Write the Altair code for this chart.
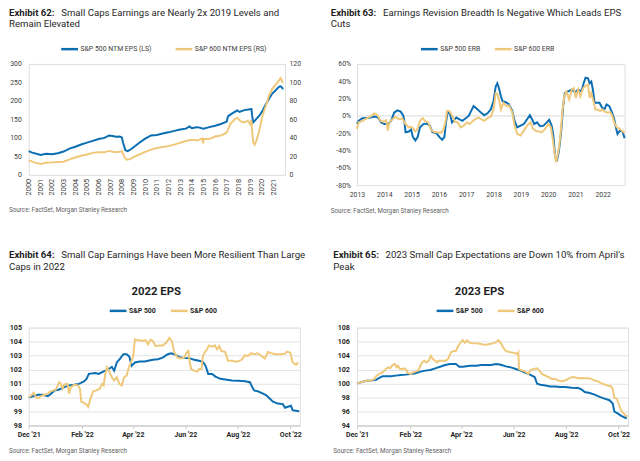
import altair as alt
import pandas as pd

FONT = "Roboto"
BLUE = "#0b6eb3"
GOLD = "#efc87a"
INK = "#1f1f1f"
AX_TXT = "#404040"
SRC_TXT = "#5f5f5f"
GRID = "#e4e4e4"

# ---------------- texts ----------------
ex_labels = ["Exhibit 62:", "Exhibit 63:", "Exhibit 64:", "Exhibit 65:"]
ex_line1 = [
    "Small Caps Earnings are Nearly 2x 2019 Levels and",
    "Earnings Revision Breadth Is Negative Which Leads EPS",
    "Small Cap Earnings Have been More Resilient Than Large",
    "2023 Small Cap Expectations are Down 10% from April's",
]
ex_line2 = ["Remain Elevated", "Cuts", "Caps in 2022", "Peak"]
source_text = "Source: FactSet, Morgan Stanley Research"
headings = ["2022 EPS", "2023 EPS"]

# ---------------- Exhibit 62 ----------------
p1_series = ["S&P 500 NTM EPS (LS)", "S&P 600 NTM EPS (RS)"]
p1_years_500 = [2000.0, 2000.3, 2000.9, 2001.0, 2001.5, 2002.0, 2002.5, 2003.0, 2003.5, 2004.0,
                2004.5, 2005.0, 2005.5, 2006.0, 2006.5, 2006.9, 2007.2, 2007.5, 2007.8, 2008.0,
                2008.1, 2008.3, 2008.5, 2008.8, 2009.0, 2009.5, 2010.0, 2010.5, 2011.0, 2011.5,
                2012.0, 2012.5, 2013.0, 2013.5, 2013.8, 2014.0, 2014.3, 2014.5, 2015.0, 2015.5,
                2016.0, 2016.5, 2017.0, 2017.1, 2017.5, 2017.9, 2018.1, 2018.5, 2019.0, 2019.12,
                2019.18, 2019.27, 2019.45, 2019.79, 2020.07, 2020.35, 2020.63, 2020.91, 2021.2,
                2021.48, 2021.62, 2021.75, 2021.82]
p1_eps_500 = [64, 60, 55, 54, 57, 56, 58.5, 63, 71, 76,
              82, 87, 92, 97, 100, 106.5, 105, 103, 104, 101,
              87, 66.5, 64, 70, 74.5, 87, 98, 106.5, 108, 112,
              115, 119, 122.5, 125, 131, 126, 128, 129, 125, 129,
              133, 137.5, 144, 158, 167, 174, 170, 175, 177.5, 178,
              160, 142, 148, 160, 173, 191, 206, 220, 229,
              238, 239.6, 236, 231]
p1_years_600 = [2000.0, 2000.5, 2001.0, 2001.5, 2002.0, 2002.5, 2003.0, 2003.5, 2004.0, 2004.5,
                2005.0, 2005.5, 2006.0, 2006.5, 2006.9, 2007.3, 2007.7, 2008.0, 2008.2, 2008.4,
                2008.7, 2009.0, 2009.5, 2010.0, 2010.5, 2011.0, 2011.5, 2012.0, 2012.5, 2013.0,
                2013.5, 2014.0, 2014.5, 2014.9, 2014.97, 2015.03, 2015.5, 2016.0, 2016.5, 2017.0,
                2017.3, 2017.7, 2017.9, 2018.2, 2018.5, 2018.8, 2019.0, 2019.11, 2019.19, 2019.28,
                2019.39, 2019.56, 2019.79, 2020.07, 2020.35, 2020.63, 2020.91, 2021.2, 2021.48,
                2021.62, 2021.7, 2021.82]
p1_eps_600 = [15.6, 13.5, 11.7, 13.1, 13.5, 13.8, 14.2, 16.7, 18.8, 20.6,
              22, 23.8, 24.5, 24.5, 25.9, 24.8, 24.8, 25.6, 19.5, 16.3,
              17, 19.2, 22, 24.8, 27.3, 29.1, 30.2, 31.2, 32.7, 34.8,
              36.6, 38, 37.3, 39.4, 34, 39, 38.7, 41.5, 42.6, 45.8,
              55, 60.3, 61.8, 57.9, 56.8, 58.6, 55, 59.3, 46, 34.8,
              32.7, 37.3, 47.9, 63.9, 74.5, 85.9, 93, 97.6, 102.2,
              104.7, 103, 99.4]
p1_xticks = list(range(2000, 2022))
p1_left_ticks = [0, 50, 100, 150, 200, 250, 300]
p1_right_ticks = [0, 20, 40, 60, 80, 100, 120]

# ---------------- Exhibit 63 ----------------
p2_series = ["S&P 500 ERB", "S&P 600 ERB"]
p2_years_500 = [2013.00, 2013.06, 2013.18, 2013.30, 2013.42, 2013.53, 2013.65, 2013.77, 2013.89, 2014.01,
                2014.13, 2014.25, 2014.36, 2014.48, 2014.60, 2014.70, 2014.74, 2014.78, 2014.90, 2014.98,
                2015.05, 2015.14, 2015.22, 2015.31, 2015.43, 2015.55, 2015.67, 2015.76, 2015.91, 2016.02,
                2016.12, 2016.20, 2016.26, 2016.32, 2016.40, 2016.48, 2016.56, 2016.64, 2016.74, 2016.86,
                2016.97, 2017.09, 2017.21, 2017.27, 2017.39, 2017.54, 2017.66, 2017.78, 2017.90, 2018.00,
                2018.08, 2018.14, 2018.20, 2018.27, 2018.33, 2018.45, 2018.57, 2018.69, 2018.77, 2018.87,
                2018.99, 2019.11, 2019.23, 2019.33, 2019.41, 2019.49, 2019.59, 2019.71, 2019.83, 2019.95,
                2020.04, 2020.13, 2020.19, 2020.25, 2020.31, 2020.37, 2020.43, 2020.49, 2020.55, 2020.61,
                2020.73, 2020.86, 2020.98, 2021.10, 2021.22, 2021.30, 2021.37, 2021.46, 2021.52, 2021.58,
                2021.64, 2021.70, 2021.78, 2021.88, 2021.98, 2022.06, 2022.14, 2022.24, 2022.34, 2022.42,
                2022.48, 2022.54, 2022.63, 2022.72, 2022.80]
p2_erb_500 = [-9.4, -5.7, -3, -2.3, -2.3, -1.5, -0.8, -1.9, -7.5, -9.4,
              -9.4, -5.7, 3.8, 6.4, 4.9, 0, -7.5, -18.9, -18, -15.8,
              -24.5, -28.3, -24.5, -13.2, -9.4, -8.7, -11.3, -18.9, -20, -24.5,
              -27.5, -24.5, -7.5, 4.5, 3, -7.5, -4.5, -1.9, -3.8, -5.7,
              -3, 0, 7.5, 11.3, 8.3, 3.8, 0.8, 3, 7.5, 17,
              34, 37.7, 32, 22.6, 17, 15.8, 13.2, 5.7, -5.7, -13.2,
              -11.3, -9.4, -3.8, 0.8, -3.8, -9.4, -7.5, -12, -11.3, -7.5,
              -4.5, -11.3, -22.6, -45, -52.8, -45, -32, -13.2, 11.3, 26.4,
              28.3, 30.2, 27.2, 30.2, 28.3, 37.7, 44.2, 43.4, 37.7, 39.6,
              30.2, 15.1, 15.1, 15.1, 9.4, 7.5, 13.2, 11.3, 3.8, -3.8,
              -13.2, -20.8, -17, -18, -25.7]
p2_years_600 = [2013.00, 2013.06, 2013.18, 2013.30, 2013.42, 2013.53, 2013.63, 2013.75, 2013.87, 2013.98,
                2014.07, 2014.13, 2014.19, 2014.30, 2014.42, 2014.54, 2014.66, 2014.78, 2014.90, 2014.98,
                2015.05, 2015.14, 2015.22, 2015.31, 2015.41, 2015.49, 2015.61, 2015.73, 2015.85, 2015.97,
                2016.08, 2016.17, 2016.24, 2016.30, 2016.38, 2016.48, 2016.59, 2016.68, 2016.80, 2016.91,
                2017.03, 2017.12, 2017.21, 2017.33, 2017.45, 2017.54, 2017.66, 2017.78, 2017.90, 2018.00,
                2018.08, 2018.14, 2018.20, 2018.27, 2018.36, 2018.48, 2018.57, 2018.69, 2018.77, 2018.87,
                2018.99, 2019.11, 2019.23, 2019.35, 2019.45, 2019.53, 2019.65, 2019.77, 2019.89, 2020.01,
                2020.10, 2020.17, 2020.23, 2020.29, 2020.35, 2020.41, 2020.47, 2020.53, 2020.59, 2020.67,
                2020.77, 2020.86, 2020.94, 2021.01, 2021.10, 2021.18, 2021.28, 2021.37, 2021.46, 2021.52,
                2021.58, 2021.66, 2021.73, 2021.82, 2021.90, 2022.00, 2022.10, 2022.18, 2022.27, 2022.34,
                2022.42, 2022.51, 2022.60, 2022.70, 2022.80]
p2_erb_600 = [-15, -7.5, -6.4, -3.8, -1.9, 0, 3, 0.8, -5.7, -6.8,
              -4.9, -17, -7.5, -3.8, -1.1, -3.8, -3, -9.4, -13.2, -12.5,
              -14.3, -18, -15, -5.7, -2.6, -5.7, -7.5, -17, -18.9, -18.9,
              -19.6, -15.8, -6.8, 5.7, 5.7, 0.8, -6.8, -7.5, -13.2, -11.3,
              -7.5, -9.4, -6.8, -3.8, -1.9, -3.8, -5.7, -2.6, -0.8, 7.5,
              26.4, 25.7, 18.9, 7.5, 15.1, 11.3, 12, 3.8, -11.3, -20.8,
              -22.6, -17, -11.3, -7.5, -15, -17, -18, -18.9, -15, -9.4,
              -13.2, -26.4, -41.5, -53.6, -45, -34, -15, 7.5, 22.6, 28.3,
              18.9, 30.2, 32, 20.8, 30.2, 22.6, 32, 34.7, 35.8, 20.8,
              26.4, 17, 7.5, 7.5, 5.7, 7.5, 4.5, 3.8, 4.5, 0.8,
              -7.5, -13.2, -14.3, -17, -19.6]
p2_xticks = list(range(2013, 2023))
p2_yticks = [-80, -60, -40, -20, 0, 20, 40, 60]

# ---------------- Exhibit 64 (days after 1 Dec 2021) ----------------
eps_series = ["S&P 500", "S&P 600"]
p3_days_500 = [0, 5, 10.7, 16.4, 22.2, 26, 29.8, 35.5, 41.3, 47, 52.7, 58.4, 64.2, 67.2, 69.9, 73.7,
               77.5, 81.4, 85.2, 89, 92.8, 96.6, 99.3, 102.4, 106.2, 110, 113.8, 116.9, 119.6, 123.4,
               129.1, 134.8, 138.7, 144.4, 150.1, 155.8, 161.6, 165.4, 169.2, 174.9, 180.7, 186.4,
               192.1, 197.9, 202.4, 205.5, 208.6, 213.1, 217, 222.7, 228.4, 236.1, 243.7, 251.3,
               257.1, 259.7, 262, 266.6, 272.3, 276.2, 280, 283.8, 289.5, 295.3, 297.9, 301, 304.8,
               306.7, 310.5, 314.4]
p3_eps_500 = [100.0, 100.09, 100.2, 100.2, 100.1, 100.28, 100.51, 100.58, 100.75, 100.87, 100.91,
              100.98, 101.15, 101.34, 101.69, 101.73, 101.76, 101.69, 101.81, 101.92, 102.04, 102.2,
              101.92, 102.51, 102.79, 103.1, 103.1, 102.93, 102.27, 102.51, 102.58, 102.58, 102.63,
              102.7, 102.74, 102.86, 103.1, 103.17, 103.1, 102.91, 102.82, 102.82, 102.7, 102.63,
              102.56, 102.27, 101.69, 101.69, 101.5, 101.34, 101.29, 101.22, 101.2, 101.17, 101.1,
              100.75, 100.51, 100.44, 100.28, 100.16, 99.93, 99.7, 99.57, 99.53, 99.27, 99.34, 99.41,
              99.1, 99.06, 99.01]
p3_days_600 = [0, 3.1, 5.7, 8.8, 11.5, 14.5, 18.3, 22.2, 25.2, 29, 31.7, 35.5, 37.4, 39.3, 41.3, 45.1,
               47, 48.9, 52.7, 57.3, 59.6, 61.1, 64.2, 67.2, 69.1, 71.8, 74.9, 78.7, 82.5, 85.2, 87.1,
               89, 90.9, 94, 96.6, 99.3, 102.4, 105.4, 108.1, 110.8, 113.8, 116.9, 119.6, 121.5, 123.4,
               125.3, 129.1, 132.9, 136, 138.7, 141.3, 144.4, 147.4, 152, 155.8, 159.7, 163.5, 166.5,
               169.2, 173, 176.9, 180.7, 183.3, 185.6, 187.2, 188.7, 192.1, 196, 197.9, 200.9, 202.4,
               205.5, 207.4, 209.3, 213.1, 216.2, 218.9, 221.5, 223.8, 228.4, 231.5, 236.1, 241.8,
               247.5, 251.3, 255.2, 258.2, 262, 265.9, 270.4, 274.3, 278.1, 281.9, 287.6, 293.4,
               297.9, 300.2, 304, 306.7, 310.5, 313.2]
p3_eps_600 = [100, 100.16, 100.35, 100, 99.97, 100.11, 100.2, 100.28, 100.44, 100.51, 100.58, 101.1,
              100.98, 100.63, 100.94, 100.98, 100.28, 100.75, 100.91, 100.87, 100.63, 99.7, 99.62,
              99.5, 99.34, 99.93, 100.44, 100.51, 100.63, 100.98, 100.87, 101.69, 102.16, 101.81,
              101.45, 101.22, 101.45, 100.98, 100.87, 101.45, 101.57, 102.27, 102.63, 102.98, 104.15,
              104.1, 104.1, 104.04, 104.1, 103.8, 104.15, 104.04, 103.68, 103.73, 103.73, 103.92,
              104.27, 104.04, 103.21, 102.86, 102.79, 102.86, 103.21, 103.33, 102.51, 102.04, 101.92,
              101.85, 102.04, 102.04, 102.98, 103.33, 103.45, 103.73, 103.64, 103.73, 103.45, 103.68,
              103.33, 103.26, 102.63, 102.63, 102.56, 102.7, 103.03, 102.98, 103.17, 103.1, 103.17,
              102.98, 102.79, 103.26, 103.17, 103.1, 103.1, 103.14, 103.29, 103.21, 102.51, 102.35,
              102.51]
p3_yticks = [98, 99, 100, 101, 102, 103, 104, 105]

# ---------------- Exhibit 65 ----------------
p4_days_500 = [0, 5, 10.7, 16.4, 22.2, 26, 29.8, 33.6, 39.3, 45.1, 50.8, 56.5, 62.3, 68, 73.7, 79.5,
               85.2, 90.9, 96.6, 102.4, 108.1, 115, 118.8, 123.4, 131, 138.7, 144.4, 150.1, 155.8,
               161.6, 167.3, 173, 178.8, 184.5, 190.2, 195.9, 201.7, 206.6, 209.3, 213.1, 218.9,
               224.6, 230.3, 236.1, 241.8, 249.4, 257.1, 260.9, 264.7, 270.4, 276.2, 281.9, 287.6,
               293.4, 297.2, 299.1, 302.9, 306.7, 310.5, 313.6]
p4_eps_500 = [100, 100.2, 100.39, 100.44, 100.53, 100.81, 101.05, 101.05, 101.05, 101.14, 101.24,
              101.28, 101.38, 101.47, 101.71, 101.85, 101.94, 102.18, 102.41, 102.65, 102.79, 102.79,
              102.41, 102.41, 102.55, 102.55, 102.65, 102.65, 102.65, 102.79, 102.69, 102.46, 102.32,
              102.08, 101.85, 101.52, 101.24, 100.91, 99.97, 99.83, 99.73, 99.59, 99.59, 99.5, 99.5,
              99.4, 99.36, 99.17, 98.79, 98.65, 98.42, 98.09, 97.85, 97.62, 97.15, 95.98, 95.74,
              95.41, 95.18, 95.04]
p4_days_600 = [0, 5, 10.7, 16.4, 20.2, 22.2, 26, 29.8, 33.6, 36.3, 38.6, 41.3, 43.9, 46.2, 47.7, 50,
               52.7, 55.4, 57.7, 59.2, 62.3, 65.3, 68, 70.7, 73, 75.6, 78.3, 80.6, 83.3, 85.9, 88.2,
               90.9, 92.8, 94.7, 100.5, 103.5, 106.2, 108.9, 111.9, 115, 117.6, 120.3, 122.6, 125.3,
               128, 131, 134.8, 138.7, 142.5, 146.3, 150.1, 153.9, 157.8, 161.6, 164.2, 167.3, 170,
               173, 176.9, 180.7, 184.5, 186.4, 187.5, 188.3, 192.1, 195.2, 199, 201.7, 205.5, 209.3,
               212, 215, 218.9, 222.7, 226.5, 230.3, 234.1, 238, 241.8, 245.6, 249.4, 253.2, 257.1,
               260.9, 264.7, 268.5, 272.3, 276.2, 280, 283.8, 287.6, 291.4, 295.3, 297.2, 299.1, 301.8,
               304, 306.7, 309.8, 312.4, 314.4]
p4_eps_600 = [100, 100.2, 100.39, 100.44, 100.67, 101.05, 101.38, 101.61, 102.08, 102.32, 102.18,
              102.65, 102.79, 102.32, 102.55, 102.08, 102.08, 102.18, 101.85, 101.52, 101.38, 101.61,
              101.71, 101.85, 102.32, 103.02, 103.26, 103.02, 103.26, 103.96, 103.49, 103.26, 103.02,
              103.26, 103.26, 103.26, 103.58, 104.43, 104.66, 104.66, 105.37, 105.84, 106.22, 105.84,
              106.17, 105.84, 105.75, 105.75, 105.7, 105.6, 105.56, 105.65, 105.75, 105.93, 106.22,
              105.75, 105.13, 104.66, 104.52, 104.43, 104.34, 104.2, 104.43, 102.08, 101.85, 101.75,
              101.38, 101.94, 102.08, 102.18, 101.85, 101.38, 101.14, 100.91, 100.67, 100.67, 100.44,
              100.34, 100.44, 100.67, 100.91, 100.91, 100.77, 100.81, 100.77, 100.77, 100.67, 100.44,
              100.3, 100.06, 99.87, 99.73, 99.59, 99.17, 98.0, 97.85, 97.15, 96.21, 95.74, 95.41,
              95.27]
p4_yticks = [94, 96, 98, 100, 102, 104, 106, 108]

month_ticks = [(2021, 12), (2022, 2), (2022, 4), (2022, 6), (2022, 8), (2022, 10)]


def to_dates(days):
    base = pd.Timestamp("2021-12-01", tz="UTC")
    return [(base + pd.Timedelta(days=float(d))).strftime("%Y-%m-%dT%H:%M:%SZ") for d in days]


def text_layer(s, x, y, size, weight="normal", color=INK, align="left", baseline="alphabetic"):
    return alt.Chart(pd.DataFrame({"t": [s]})).mark_text(
        align=align, baseline=baseline, fontSize=size, fontWeight=weight,
        color=color, font=FONT
    ).encode(text="t:N", x=alt.value(x), y=alt.value(y))


def title_layers(i, x, y1, y2):
    return [
        text_layer(ex_labels[i], x, y1, 9.75, "bold"),
        text_layer(ex_line1[i], x + 53, y1, 9.75),
        text_layer(ex_line2[i], x, y2, 9.75),
    ]


def make_legend(x, y, pad, bold):
    return alt.Legend(
        orient="none", legendX=x, legendY=y, direction="horizontal",
        symbolType="stroke", symbolSize=289, symbolStrokeWidth=2.5,
        labelFont=FONT, labelFontSize=7, labelFontWeight="bold" if bold else "normal",
        labelColor=INK if bold else AX_TXT, columnPadding=pad, labelOffset=1, padding=0,
    )


# ---------------- Panel 1 ----------------
df1a = pd.DataFrame({"year": p1_years_500, "v": p1_eps_500, "s1": p1_series[0]})
df1b = pd.DataFrame({"year": p1_years_600, "v": p1_eps_600, "s1": p1_series[1]})
col1 = alt.Color("s1:N", title=None, scale=alt.Scale(domain=p1_series, range=[BLUE, GOLD]),
                 legend=make_legend(31.5, -25, 18, False))
x1 = alt.X("year:Q", title=None, scale=alt.Scale(domain=[2000, 2022], nice=False, zero=False),
           axis=alt.Axis(values=p1_xticks, format="d", labelAngle=270, domain=False, ticks=False,
                         grid=False, labelPadding=3.5, labelFontSize=7.5, labelFont=FONT,
                         labelColor=AX_TXT, labelFlush=False, labelOverlap=False))
ax_common = dict(domain=False, ticks=False, grid=False, labelFontSize=7, labelFont=FONT,
                 labelColor=AX_TXT)
l1a = alt.Chart(df1a).mark_line(strokeWidth=2).encode(
    x=x1,
    y=alt.Y("v:Q", title=None, scale=alt.Scale(domain=[0, 300], nice=False),
            axis=alt.Axis(orient="left", values=p1_left_ticks, labelPadding=7.5, **ax_common)),
    color=col1)
l1b = alt.Chart(df1b).mark_line(strokeWidth=2).encode(
    x=x1,
    y=alt.Y("v:Q", title=None, scale=alt.Scale(domain=[0, 120], nice=False),
            axis=alt.Axis(orient="right", values=p1_right_ticks, labelPadding=4, **ax_common)),
    color=col1)
p1 = alt.layer(
    l1a, l1b, *title_layers(0, -20, -49, -37),
    text_layer(source_text, -20, 150.3, 6.4, color=SRC_TXT),
).resolve_scale(y="independent").properties(width=260, height=112.5)

# ---------------- Panel 2 ----------------
df2a = pd.DataFrame({"year": p2_years_500, "v": p2_erb_500, "s2": p2_series[0]})
df2b = pd.DataFrame({"year": p2_years_600, "v": p2_erb_600, "s2": p2_series[1]})
col2 = alt.Color("s2:N", title=None, scale=alt.Scale(domain=p2_series, range=[BLUE, GOLD]),
                 legend=make_legend(63.4, -25, 9, False))
x2 = alt.X("year:Q", title=None, scale=alt.Scale(domain=[2013, 2022.8], nice=False, zero=False),
           axis=alt.Axis(values=p2_xticks, format="d", labelAngle=0, labelPadding=5,
                         labelFlush=False, **ax_common))
y2 = alt.Y("v:Q", title=None, scale=alt.Scale(domain=[-80, 60], nice=False),
           axis=alt.Axis(values=p2_yticks, labelExpr="datum.value + '%'", labelPadding=6.5,
                         **ax_common))
zero2 = alt.Chart(pd.DataFrame({"v": [0]})).mark_rule(color="#d9d9d9", strokeWidth=1).encode(y=y2)
l2a = alt.Chart(df2a).mark_line(strokeWidth=2).encode(x=x2, y=y2, color=col2)
l2b = alt.Chart(df2b).mark_line(strokeWidth=2).encode(x=x2, y=y2, color=col2)
p2 = alt.layer(
    zero2, l2a, l2b, *title_layers(1, -26.6, -49, -37),
    text_layer(source_text, -26.6, 150.8, 6.4, color=SRC_TXT),
).properties(width=271.5, height=123)


# ---------------- Panels 3 & 4 ----------------
def eps_panel(idx, days_a, vals_a, days_b, vals_b, yticks, title_x, head_x, leg_x, lab_pad):
    field = "s%d" % (idx + 1)
    da = pd.DataFrame({"d": to_dates(days_a), "v": vals_a, field: eps_series[0]})
    db = pd.DataFrame({"d": to_dates(days_b), "v": vals_b, field: eps_series[1]})
    col = alt.Color(field + ":N", title=None,
                    scale=alt.Scale(domain=eps_series, range=[BLUE, GOLD]),
                    legend=make_legend(leg_x, -27, 9, True))
    x = alt.X("d:T", title=None,
              scale=alt.Scale(type="utc", nice=False,
                              domain=[alt.DateTime(year=2021, month=12, date=1, utc=True),
                                      alt.DateTime(year=2022, month=10, date=12, utc=True)]),
              axis=alt.Axis(values=[alt.DateTime(year=yy, month=mm, date=1, utc=True)
                                    for yy, mm in month_ticks],
                            format="%b '%y", labelAngle=0, grid=False, domain=True,
                            domainColor="#c8c8c8", ticks=True, tickColor="#c8c8c8", tickSize=3,
                            labelPadding=2, labelFontSize=7.2, labelFontWeight="bold",
                            labelFont=FONT, labelColor=INK, labelFlush=False))
    y = alt.Y("v:Q", title=None, scale=alt.Scale(domain=[yticks[0], yticks[-1]], nice=False, zero=False),
              axis=alt.Axis(values=yticks, grid=True, gridColor=GRID, domain=False, ticks=False,
                            labelPadding=lab_pad, labelFontSize=7.2, labelFontWeight="bold",
                            labelFont=FONT, labelColor=INK))
    la = alt.Chart(da).mark_line(strokeWidth=2).encode(x=x, y=y, color=col)
    lb = alt.Chart(db).mark_line(strokeWidth=2).encode(x=x, y=y, color=col)
    return alt.layer(
        la, lb, *title_layers(idx, title_x, -70.2, -58.2),
        text_layer(headings[idx - 2], head_x, -33, 11.5, "bold", align="center"),
        text_layer(source_text, title_x, 127.5, 6.4, color=SRC_TXT),
    ).properties(width=275, height=99.3)


p3 = eps_panel(2, p3_days_500, p3_eps_500, p3_days_600, p3_eps_600, p3_yticks, -20, 129.4, 80.7, 7.3)
p4 = eps_panel(3, p4_days_500, p4_eps_500, p4_days_600, p4_eps_600, p4_yticks, -24, 124.3, 79.3, 7.7)

top = alt.hconcat(p1, p2, spacing=28).resolve_scale(color="independent")
bottom = alt.hconcat(p3, p4, spacing=26).resolve_scale(color="independent")
chart = alt.vconcat(top, bottom, spacing=35.5).resolve_scale(color="independent").properties(
    padding={"top": -4.5, "left": 0, "right": 0, "bottom": 0}).configure_view(
    stroke=None).configure(font=FONT)

chart.save("out.html", embed_options={"renderer": "svg", "actions": False})
